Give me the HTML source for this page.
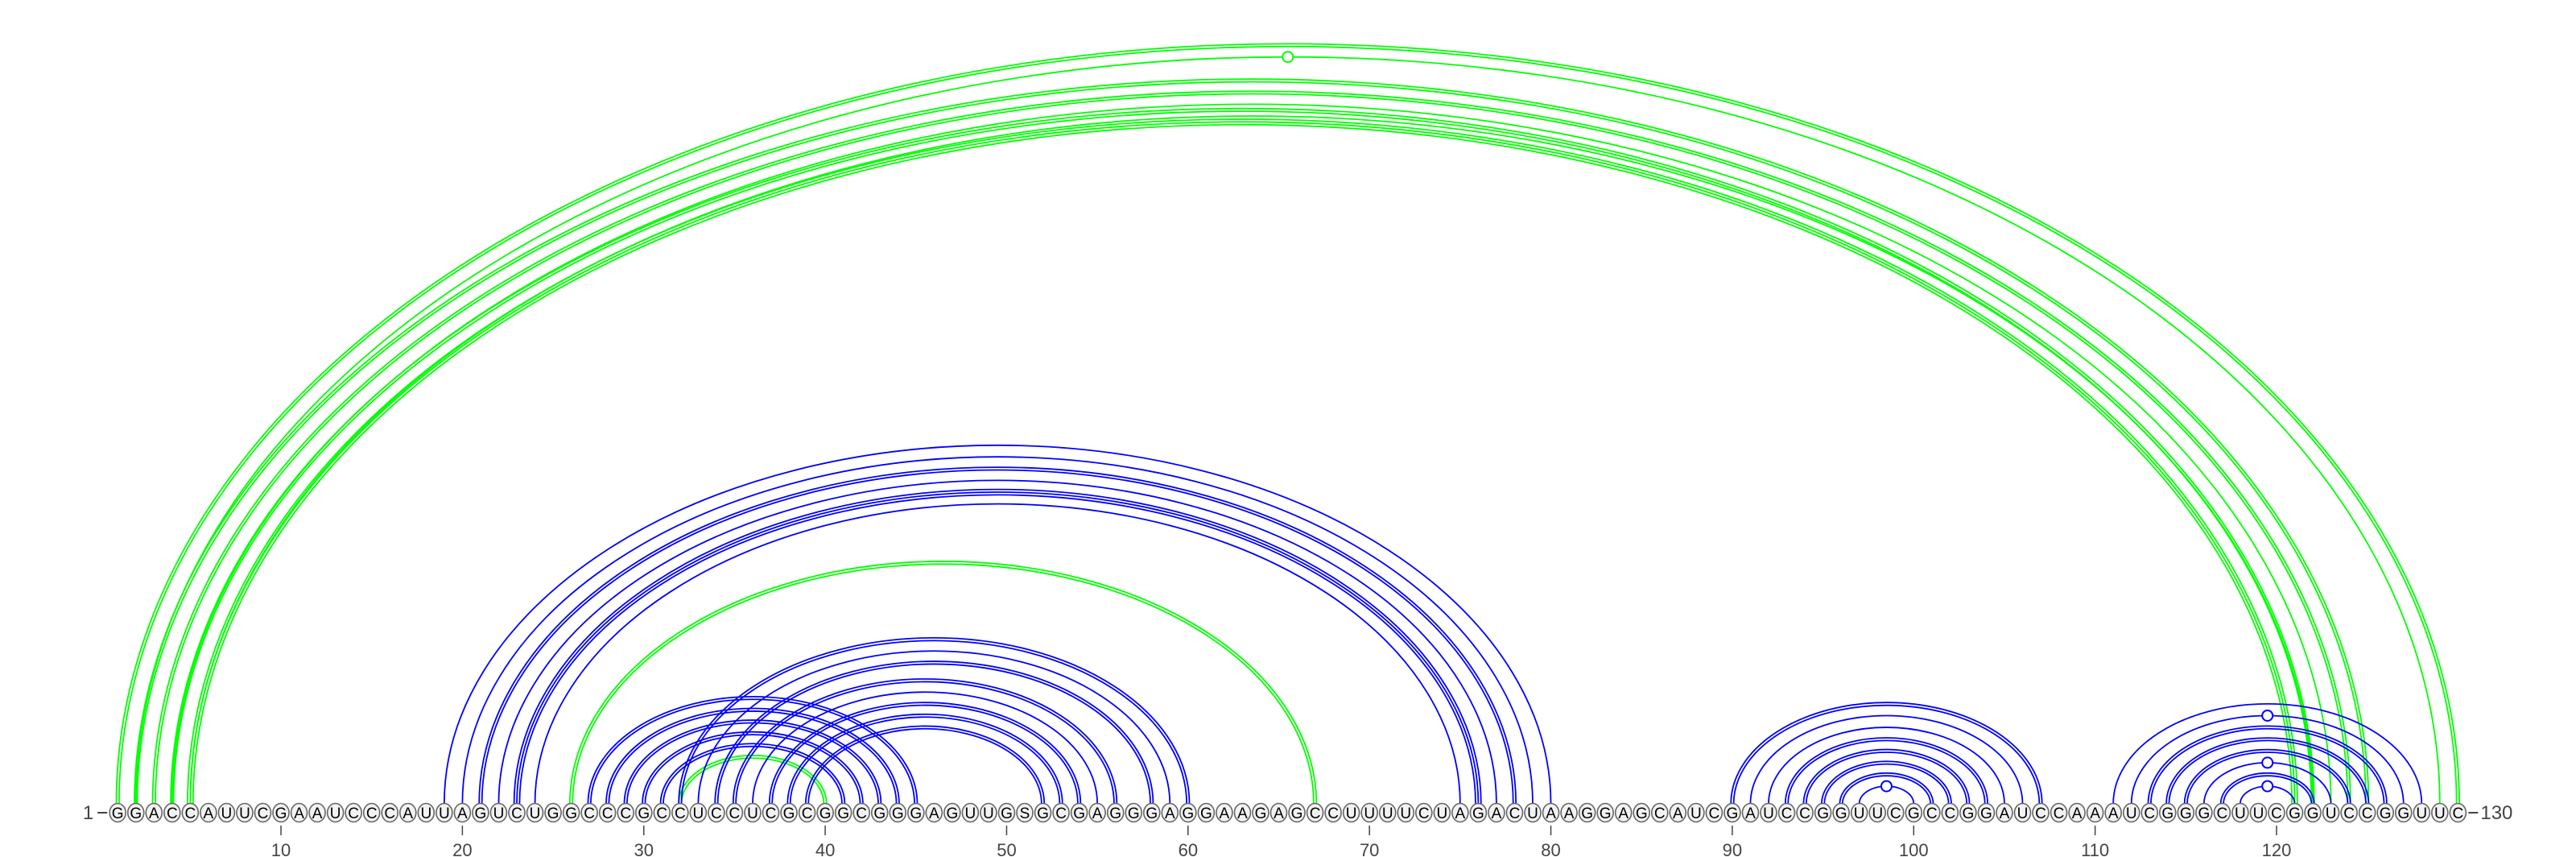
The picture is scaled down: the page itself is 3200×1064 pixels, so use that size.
<!DOCTYPE html>
<html><head><meta charset="utf-8"><style>
html,body{margin:0;padding:0;background:#fff;}
svg{display:block;}
</style></head><body>
<svg id="chart" width="3200" height="1064" viewBox="0 0 3200 1064" xmlns="http://www.w3.org/2000/svg">
<g id="arcs"></g>
<g id="nts"></g>
<g id="axis"></g>
</svg>
<script>
const sequence = "GGACCAUUCGAAUCCCAUUAGUCUGGCCCGCCUCCUCGCGGCGGGAGUUGSGCGAGGGAGGAAGAGCCUUUUCUAGACUAAGGAGCAUCGAUCCGGUUCGCCGGAUCCAAAUCGGGCUUCGGUCCGGUUC";
// blue structure pairs: [i, j, multiplicity]
const bluePairs = [
 [19,80,1],[20,79,1],[21,78,2],[22,77,1],[23,76,3],[24,75,1],
 [27,45,2],[28,44,2],[29,43,2],[30,42,2],[31,41,2],
 [32,60,2],[33,59,1],[34,58,2],[35,56,2],[36,55,1],[37,54,2],[38,53,2],[39,52,2],
 [90,107,2],[91,106,1],[92,105,1],[93,104,2],[94,103,2],[95,102,2],[96,101,2],[97,100,1],
 [111,128,1],[112,127,1],[113,126,2],[114,125,2],[115,124,2],[116,123,1],[117,122,2],[118,121,1]
];
// green structure pairs
const greenPairs = [
 [1,130,2],[2,129,1],[2,125,2],[3,124,2],[4,123,1],[4,122,2],[5,122,1],[5,121,3],
 [26,67,2],[32,40,2]
];
const blueMarkers = [[97,100],[118,121],[116,123],[112,127]];
const greenMarkers = [[2,129]];
const tickValues = [10,20,30,40,50,60,70,80,90,100,110,120];

const NS="http://www.w3.org/2000/svg";
const X0=146.2, DX=22.536, BASE=998, CY=1009, RATIO=0.648;
function xPos(i){return X0+(i-1)*DX;}
function mk(tag,attrs,parent){const e=document.createElementNS(NS,tag);for(const k in attrs)e.setAttribute(k,attrs[k]);parent.appendChild(e);return e;}
const arcsG=document.getElementById('arcs');
function drawPairs(pairs,color,name){
  pairs.forEach(p=>{
    const [i,j,m]=p;
    for(let k=0;k<m;k++){
      const off=(k-(m-1)/2)*3.4;
      const x1=xPos(i)-off, x2=xPos(j)+off;
      const rx=(x2-x1)/2, ry=RATIO*(xPos(j)-xPos(i))/2+off;
      const el=mk('path',{d:`M${x1} ${BASE} A${rx} ${ry} 0 0 1 ${x2} ${BASE}`,fill:'none',stroke:color,'stroke-width':1.8},arcsG);
      
      
    }
  });
}
drawPairs(greenPairs,'#00ff00','green');
drawPairs(bluePairs,'#0000ff','blue');
function drawMarkers(ms,color){
  ms.forEach(([i,j])=>{
    const cx=(xPos(i)+xPos(j))/2, ry=RATIO*(xPos(j)-xPos(i))/2;
    const c=mk('circle',{cx:cx,cy:BASE-ry,r:6.5,fill:'#fff',stroke:color,'stroke-width':2},arcsG);
    
    
  });
}
drawMarkers(greenMarkers,'#00ff00');
drawMarkers(blueMarkers,'#0000ff');

const ntG=document.getElementById('nts');
for(let i=1;i<=sequence.length;i++){
  const x=xPos(i);
  const e=mk('ellipse',{cx:x,cy:CY,rx:10,ry:11.5,fill:'#f2f2f2',stroke:'#666','stroke-width':1.6},ntG);
  
  
  const t=mk('text',{x:x,y:CY+7,'text-anchor':'middle','font-family':'Liberation Sans, sans-serif','font-size':19,fill:'#000'},ntG);
  t.textContent=sequence[i-1];
  
  
}
const axG=document.getElementById('axis');
const s1=mk('text',{x:xPos(1)-30,y:CY+8,'text-anchor':'end','font-family':'Liberation Sans, sans-serif','font-size':24,fill:'#444'},axG);
s1.textContent='1';


mk('line',{x1:xPos(1)-25,x2:xPos(1)-13,y1:CY,y2:CY,stroke:'#444','stroke-width':2},axG);
mk('line',{x1:xPos(130)+13,x2:xPos(130)+25,y1:CY,y2:CY,stroke:'#444','stroke-width':2},axG);
const s2=mk('text',{x:xPos(130)+28,y:CY+8,'font-family':'Liberation Sans, sans-serif','font-size':24,fill:'#444'},axG);
s2.textContent='130';


tickValues.forEach(v=>{
  const x=xPos(v);
  const l=mk('line',{x1:x,x2:x,y1:1025,y2:1037,stroke:'#444','stroke-width':1.5},axG);
  
  
  const t=mk('text',{x:x,y:1063,'text-anchor':'middle','font-family':'Liberation Sans, sans-serif','font-size':22,fill:'#444'},axG);
  t.textContent=String(v);
  
  
});
</script>
</body></html>
